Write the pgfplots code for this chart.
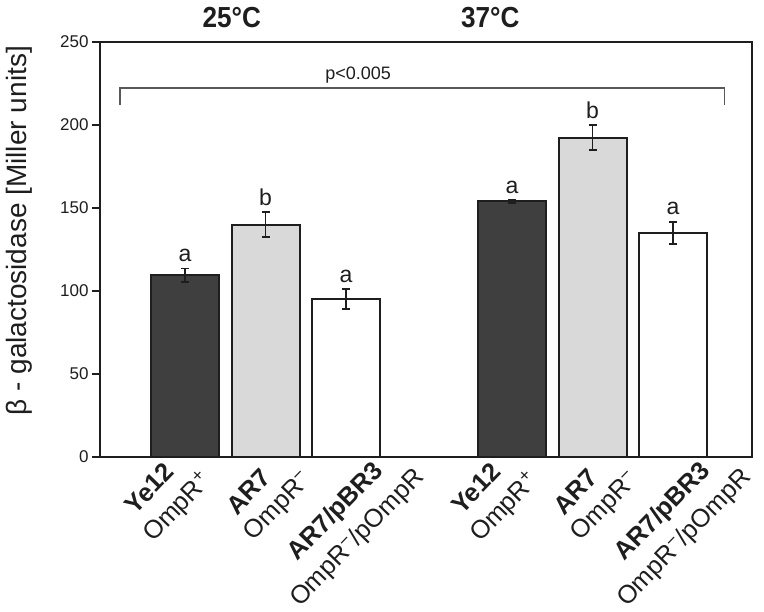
\documentclass[border=0pt]{standalone}
\usepackage{fontspec}
\setmainfont{Liberation Sans}
\usepackage{pgfplots}
\pgfplotsset{compat=1.18}
\definecolor{darkbar}{HTML}{3F3F3F}
\definecolor{lightbar}{HTML}{D9D9D9}
\definecolor{edge}{HTML}{1E1E1E}
\begin{document}
\begin{tikzpicture}
\useasboundingbox (-100pt,-155pt) rectangle (664pt,457pt);
\begin{axis}[
  at={(0,0)}, anchor=south west,
  scale only axis, width=652pt, height=415pt,
  xmin=-1.056, xmax=7.04, ymin=0, ymax=250,
  ytick={0,50,100,150,200,250},
  ytick pos=left, tick align=outside,
  major tick length=8pt,
  ytick style={line width=1.5pt, edge},
  xtick=\empty,
  yticklabel style={font=\fontsize{17}{20}\selectfont, text=edge},
  /pgf/number format/assume math mode=true,
  ylabel={β - galactosidase [Miller units]},
  ylabel style={font=\fontsize{28}{32}\selectfont, text=edge,
    at={(axis description cs:-0.124,0.545)}, anchor=center},
  axis line style={line width=2.5pt, edge},
  clip=false,
  ybar, bar width=68pt, bar shift=0pt,
  error bars/y dir=both, error bars/y explicit,
  error bars/error mark options={rotate=90, mark size=4pt, line width=1.8pt, edge},
  error bars/error bar style={line width=1.8pt, edge},
]
\addplot[fill=darkbar, draw=edge, line width=2pt] coordinates {
  (0,109.5) +- (0,4)
  (4.06,154) +- (0,1)
};
\addplot[fill=lightbar, draw=edge, line width=2pt] coordinates {
  (1,140) +- (0,7.5)
  (5.06,192.3) +- (0,7.5)
};
\addplot[fill=white, draw=edge, line width=2pt] coordinates {
  (2,95) +- (0,6)
  (6.06,135) +- (0,6.8)
};
% significance letters
\begin{scope}[every node/.style={font=\fontsize{23}{26}\selectfont, text=edge, anchor=base}]
\node at (axis cs:0,117.5) {a};
\node at (axis cs:1,151.8) {b};
\node at (axis cs:2,105) {a};
\node at (axis cs:4.06,159) {a};
\node at (axis cs:5.06,204) {b};
\node at (axis cs:6.06,146) {a};
\end{scope}
% bracket
\draw[line width=1.3pt, black!65] (axis cs:-0.807,212) -- (axis cs:-0.807,222.3) -- (axis cs:6.70,222.3) -- (axis cs:6.70,212);
\node[font=\fontsize{18}{20}\selectfont, text=edge, anchor=base] at (axis cs:2.15,227.5) {p<0.005};
% temperature headers
\node[font=\bfseries\fontsize{29}{32}\selectfont, text=edge, anchor=base] at (axis cs:0.58,258.5) {\scalebox{0.9}[1]{25°C}};
\node[font=\bfseries\fontsize{29}{32}\selectfont, text=edge, anchor=base] at (axis cs:3.79,258.5) {\scalebox{0.9}[1]{37°C}};
% category labels (rotated)
\begin{scope}[every node/.style={rotate=46, anchor=center, inner sep=0pt, text=edge, font=\fontsize{25.5}{30}\selectfont}]
  \node[font=\bfseries\fontsize{25.5}{30}\selectfont] at (axis cs:-0.447,-18.86) {Ye12};
  \node at (axis cs:-0.091,-30.42) {OmpR\textsuperscript{+}};
  \node[font=\bfseries\fontsize{25.5}{30}\selectfont] at (axis cs:0.789,-20.90) {AR7};
  \node at (axis cs:1.161,-29.94) {OmpR\textsuperscript{−}};
  \node[font=\bfseries\fontsize{25.5}{30}\selectfont] at (axis cs:1.877,-33.2) {AR7/pBR3};
  \node at (axis cs:2.145,-49.0) {OmpR\textsuperscript{−}/pOmpR};
  \node[font=\bfseries\fontsize{25.5}{30}\selectfont] at (axis cs:3.613,-18.86) {Ye12};
  \node at (axis cs:3.969,-30.42) {OmpR\textsuperscript{+}};
  \node[font=\bfseries\fontsize{25.5}{30}\selectfont] at (axis cs:4.849,-20.90) {AR7};
  \node at (axis cs:5.221,-29.94) {OmpR\textsuperscript{−}};
  \node[font=\bfseries\fontsize{25.5}{30}\selectfont] at (axis cs:5.937,-33.2) {AR7/pBR3};
  \node at (axis cs:6.205,-49.0) {OmpR\textsuperscript{−}/pOmpR};
\end{scope}
\end{axis}
\end{tikzpicture}
\end{document}
